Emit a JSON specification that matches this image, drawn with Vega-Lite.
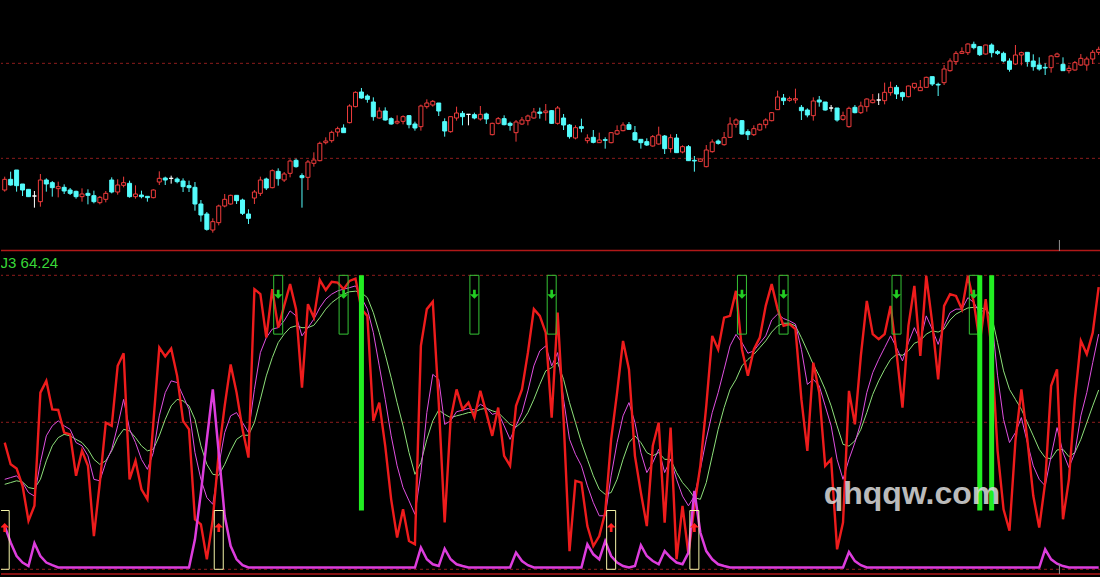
{
"$schema": "https://vega.github.io/schema/vega-lite/v6.json",
"background": "#000000",
"padding": 0,
"spacing": 0,
"config": {"view": {"stroke": null}, "axis": {"disable": true}, "concat": {"spacing": 0}},
"datasets": {
"bars": [
{"i":-1,"o":4.30,"h":4.70,"l":4.25,"c":4.62,"k":43.1,"d":30.6,"j":28.9,"x":14.7},
{"i":0,"o":4.62,"h":4.85,"l":4.43,"c":4.45,"k":35.7,"d":31.2,"j":29.5,"x":9.1},
{"i":1,"o":4.90,"h":4.90,"l":4.25,"c":4.43,"k":34.3,"d":31.8,"j":30.1,"x":4.5},
{"i":2,"o":4.48,"h":4.48,"l":4.12,"c":4.30,"k":28.4,"d":29.5,"j":29.7,"x":2.3},
{"i":3,"o":4.32,"h":4.32,"l":4.10,"c":4.10,"k":16.5,"d":26.1,"j":27.8,"x":1.1},
{"i":4,"o":4.12,"h":4.27,"l":3.77,"c":4.12,"k":21.6,"d":24.9,"j":27.4,"x":8.9},
{"i":5,"o":3.95,"h":4.78,"l":3.80,"c":4.60,"k":60.1,"d":36.3,"j":30.6,"x":4.5},
{"i":6,"o":4.60,"h":4.65,"l":4.25,"c":4.48,"k":64.1,"d":45.4,"j":36.9,"x":2.3},
{"i":7,"o":4.52,"h":4.57,"l":4.10,"c":4.37,"k":54.4,"d":48.8,"j":42.0,"x":1.4},
{"i":8,"o":4.34,"h":4.55,"l":4.08,"c":4.40,"k":54.2,"d":50.5,"j":44.8,"x":0.6},
{"i":9,"o":4.38,"h":4.47,"l":4.18,"c":4.27,"k":46.5,"d":48.8,"j":45.9,"x":0.6},
{"i":10,"o":4.30,"h":4.36,"l":4.15,"c":4.20,"k":45.9,"d":47.6,"j":45.4,"x":0.6},
{"i":11,"o":4.26,"h":4.28,"l":4.04,"c":4.10,"k":31.8,"d":43.1,"j":44.2,"x":0.6},
{"i":12,"o":4.10,"h":4.35,"l":3.95,"c":4.18,"k":40.3,"d":42.0,"j":43.1,"x":0.6},
{"i":13,"o":4.20,"h":4.32,"l":3.87,"c":4.14,"k":35.2,"d":38.6,"j":40.8,"x":0.6},
{"i":14,"o":4.13,"h":4.28,"l":3.90,"c":3.95,"k":11.3,"d":30.6,"j":37.4,"x":0.6},
{"i":15,"o":3.92,"h":4.12,"l":3.87,"c":4.08,"k":29.5,"d":30.1,"j":35.7,"x":0.6},
{"i":16,"o":4.02,"h":4.27,"l":3.93,"c":4.20,"k":49.9,"d":36.3,"j":36.9,"x":0.6},
{"i":17,"o":4.60,"h":4.68,"l":4.20,"c":4.24,"k":48.8,"d":40.8,"j":40.3,"x":0.6},
{"i":18,"o":4.24,"h":4.62,"l":4.16,"c":4.45,"k":69.2,"d":48.8,"j":44.8,"x":0.6},
{"i":19,"o":4.44,"h":4.70,"l":4.38,"c":4.52,"k":73.5,"d":57.8,"j":47.6,"x":0.6},
{"i":20,"o":4.50,"h":4.58,"l":4.07,"c":4.10,"k":30.6,"d":47.6,"j":47.1,"x":0.6},
{"i":21,"o":4.10,"h":4.44,"l":4.04,"c":4.18,"k":36.9,"d":43.1,"j":44.8,"x":0.6},
{"i":22,"o":4.15,"h":4.28,"l":4.05,"c":4.10,"k":27.2,"d":37.4,"j":42.0,"x":0.6},
{"i":23,"o":4.11,"h":4.11,"l":3.95,"c":4.07,"k":23.8,"d":34.0,"j":40.3,"x":0.6},
{"i":24,"o":4.07,"h":4.32,"l":4.05,"c":4.30,"k":49.9,"d":39.7,"j":40.8,"x":0.6},
{"i":25,"o":4.54,"h":4.86,"l":4.45,"c":4.65,"k":75.4,"d":52.2,"j":45.4,"x":0.6},
{"i":26,"o":4.66,"h":4.70,"l":4.45,"c":4.60,"k":72.4,"d":60.1,"j":51.0,"x":0.6},
{"i":27,"o":4.65,"h":4.73,"l":4.49,"c":4.65,"k":75.1,"d":64.1,"j":55.6,"x":0.6},
{"i":28,"o":4.63,"h":4.68,"l":4.50,"c":4.55,"k":65.8,"d":63.5,"j":57.8,"x":0.6},
{"i":29,"o":4.57,"h":4.65,"l":4.24,"c":4.40,"k":50.5,"d":59.0,"j":57.3,"x":0.6},
{"i":30,"o":4.43,"h":4.58,"l":4.24,"c":4.37,"k":47.6,"d":54.4,"j":55.6,"x":0.6},
{"i":31,"o":4.38,"h":4.54,"l":3.68,"c":3.88,"k":17.0,"d":39.7,"j":51.0,"x":10.2},
{"i":32,"o":3.88,"h":4.00,"l":3.35,"c":3.55,"k":15.3,"d":30.6,"j":42.0,"x":26.1},
{"i":33,"o":3.58,"h":3.64,"l":3.08,"c":3.12,"k":3.4,"d":24.4,"j":35.7,"x":44.2},
{"i":34,"o":3.10,"h":3.45,"l":3.02,"c":3.35,"k":17.0,"d":22.1,"j":32.3,"x":61.2},
{"i":35,"o":3.32,"h":3.86,"l":3.24,"c":3.82,"k":39.7,"d":35.2,"j":32.0,"x":39.7},
{"i":36,"o":3.82,"h":4.18,"l":3.78,"c":4.02,"k":55.6,"d":46.5,"j":35.7,"x":18.1},
{"i":37,"o":3.88,"h":4.16,"l":3.86,"c":4.14,"k":69.7,"d":52.2,"j":40.3,"x":7.9},
{"i":38,"o":4.14,"h":4.14,"l":3.88,"c":3.98,"k":60.1,"d":53.3,"j":44.2,"x":3.4},
{"i":39,"o":4.00,"h":4.04,"l":3.55,"c":3.60,"k":47.6,"d":49.9,"j":45.6,"x":1.4},
{"i":40,"o":3.58,"h":3.72,"l":3.28,"c":3.45,"k":38.0,"d":46.5,"j":45.6,"x":0.6},
{"i":41,"o":4.06,"h":4.30,"l":3.88,"c":4.24,"k":95.3,"d":61.2,"j":49.9,"x":0.6},
{"i":42,"o":4.20,"h":4.70,"l":4.12,"c":4.60,"k":93.6,"d":73.7,"j":57.8,"x":0.6},
{"i":43,"o":4.63,"h":4.67,"l":4.30,"c":4.36,"k":78.8,"d":78.8,"j":65.8,"x":0.6},
{"i":44,"o":4.37,"h":4.92,"l":4.35,"c":4.88,"k":95.3,"d":81.7,"j":72.0,"x":0.6},
{"i":45,"o":4.86,"h":4.95,"l":4.43,"c":4.64,"k":82.2,"d":82.2,"j":77.1,"x":0.6},
{"i":46,"o":4.60,"h":4.84,"l":4.54,"c":4.78,"k":89.6,"d":84.5,"j":80.0,"x":0.6},
{"i":47,"o":4.80,"h":5.22,"l":4.68,"c":5.17,"k":97.0,"d":87.9,"j":82.2,"x":0.6},
{"i":48,"o":5.19,"h":5.24,"l":4.97,"c":5.00,"k":88.5,"d":86.2,"j":82.8,"x":0.6},
{"i":49,"o":4.73,"h":4.80,"l":3.77,"c":4.67,"k":61.8,"d":79.4,"j":82.2,"x":0.6},
{"i":50,"o":4.68,"h":5.20,"l":4.30,"c":5.14,"k":90.2,"d":82.2,"j":82.2,"x":0.6},
{"i":51,"o":5.10,"h":5.43,"l":5.00,"c":5.20,"k":85.6,"d":85.1,"j":83.0,"x":0.6},
{"i":52,"o":5.18,"h":5.75,"l":5.16,"c":5.70,"k":98.4,"d":89.0,"j":85.6,"x":0.6},
{"i":53,"o":5.72,"h":5.88,"l":5.67,"c":5.77,"k":95.0,"d":91.9,"j":88.5,"x":0.6},
{"i":54,"o":5.78,"h":6.08,"l":5.72,"c":6.03,"k":97.8,"d":93.6,"j":90.7,"x":0.6},
{"i":55,"o":6.04,"h":6.20,"l":5.90,"c":6.14,"k":97.5,"d":94.7,"j":92.2,"x":0.6},
{"i":56,"o":6.16,"h":6.27,"l":6.02,"c":6.02,"k":95.3,"d":95.3,"j":93.6,"x":0.6},
{"i":57,"o":6.32,"h":6.87,"l":6.30,"c":6.82,"k":98.1,"d":95.8,"j":94.4,"x":0.6},
{"i":58,"o":6.80,"h":7.26,"l":6.78,"c":7.23,"k":98.9,"d":96.4,"j":94.6,"x":0.6},
{"i":59,"o":7.24,"h":7.36,"l":7.04,"c":7.06,"k":88.5,"d":92.4,"j":94.1,"x":0.6},
{"i":60,"o":7.12,"h":7.17,"l":6.92,"c":7.02,"k":86.2,"d":88.5,"j":92.4,"x":0.6},
{"i":61,"o":6.94,"h":7.08,"l":6.38,"c":6.50,"k":50.5,"d":80.5,"j":87.3,"x":0.6},
{"i":62,"o":6.46,"h":6.78,"l":6.44,"c":6.67,"k":56.7,"d":69.2,"j":80.5,"x":0.6},
{"i":63,"o":6.67,"h":6.78,"l":6.38,"c":6.40,"k":42.0,"d":57.8,"j":73.1,"x":0.6},
{"i":64,"o":6.44,"h":6.48,"l":6.26,"c":6.28,"k":23.8,"d":45.4,"j":65.2,"x":0.6},
{"i":65,"o":6.31,"h":6.54,"l":6.27,"c":6.36,"k":10.8,"d":35.2,"j":56.7,"x":0.6},
{"i":66,"o":6.36,"h":6.54,"l":6.27,"c":6.50,"k":20.4,"d":27.8,"j":48.8,"x":0.6},
{"i":67,"o":6.53,"h":6.55,"l":6.15,"c":6.26,"k":9.6,"d":23.3,"j":39.7,"x":0.6},
{"i":68,"o":6.28,"h":6.35,"l":6.08,"c":6.16,"k":8.5,"d":18.7,"j":32.3,"x":0.6},
{"i":69,"o":6.20,"h":6.86,"l":6.08,"c":6.82,"k":76.0,"d":32.9,"j":36.3,"x":7.4},
{"i":70,"o":6.80,"h":7.02,"l":6.74,"c":6.91,"k":88.5,"d":53.3,"j":44.2,"x":3.4},
{"i":71,"o":6.85,"h":7.00,"l":6.80,"c":6.96,"k":91.0,"d":66.3,"j":50.5,"x":1.7},
{"i":72,"o":6.91,"h":6.91,"l":6.52,"c":6.67,"k":56.7,"d":64.6,"j":54.2,"x":1.1},
{"i":73,"o":6.35,"h":6.45,"l":5.90,"c":6.07,"k":15.9,"d":49.3,"j":52.7,"x":7.0},
{"i":74,"o":6.05,"h":6.50,"l":6.02,"c":6.50,"k":51.0,"d":50.5,"j":51.6,"x":3.4},
{"i":75,"o":6.46,"h":6.80,"l":6.38,"c":6.61,"k":61.2,"d":53.6,"j":52.2,"x":1.7},
{"i":76,"o":6.60,"h":6.67,"l":6.24,"c":6.50,"k":54.4,"d":54.1,"j":52.7,"x":1.1},
{"i":77,"o":6.57,"h":6.58,"l":6.24,"c":6.57,"k":56.7,"d":54.7,"j":53.3,"x":0.6},
{"i":78,"o":6.56,"h":6.62,"l":6.42,"c":6.46,"k":51.6,"d":54.2,"j":53.5,"x":0.6},
{"i":79,"o":6.43,"h":6.82,"l":6.38,"c":6.57,"k":60.7,"d":56.1,"j":54.4,"x":0.6},
{"i":80,"o":6.58,"h":6.62,"l":6.28,"c":6.43,"k":53.3,"d":55.0,"j":54.8,"x":0.6},
{"i":81,"o":5.96,"h":6.32,"l":5.94,"c":6.30,"k":45.4,"d":52.7,"j":53.9,"x":0.6},
{"i":82,"o":6.30,"h":6.49,"l":6.27,"c":6.44,"k":55.0,"d":53.3,"j":53.3,"x":0.6},
{"i":83,"o":6.44,"h":6.54,"l":6.24,"c":6.26,"k":38.6,"d":48.8,"j":51.3,"x":0.6},
{"i":84,"o":6.30,"h":6.35,"l":6.08,"c":6.24,"k":35.2,"d":44.2,"j":49.3,"x":0.6},
{"i":85,"o":6.02,"h":6.40,"l":5.75,"c":6.34,"k":55.6,"d":48.8,"j":48.4,"x":5.7},
{"i":86,"o":6.28,"h":6.49,"l":6.25,"c":6.40,"k":61.2,"d":53.3,"j":50.1,"x":2.8},
{"i":87,"o":6.38,"h":6.56,"l":6.24,"c":6.52,"k":73.7,"d":60.7,"j":53.3,"x":1.4},
{"i":88,"o":6.46,"h":6.76,"l":6.44,"c":6.64,"k":88.5,"d":69.2,"j":57.8,"x":0.6},
{"i":89,"o":6.64,"h":6.77,"l":6.44,"c":6.60,"k":86.2,"d":74.3,"j":62.9,"x":0.6},
{"i":90,"o":6.62,"h":6.88,"l":6.38,"c":6.67,"k":80.5,"d":76.0,"j":67.5,"x":0.6},
{"i":91,"o":6.68,"h":6.70,"l":6.28,"c":6.30,"k":51.6,"d":69.2,"j":68.6,"x":0.6},
{"i":92,"o":6.30,"h":6.82,"l":6.26,"c":6.76,"k":87.3,"d":73.7,"j":70.3,"x":0.6},
{"i":93,"o":6.46,"h":6.58,"l":6.10,"c":6.25,"k":51.0,"d":57.8,"j":64.6,"x":0.6},
{"i":94,"o":6.25,"h":6.28,"l":5.84,"c":5.90,"k":6.2,"d":44.2,"j":56.7,"x":0.6},
{"i":95,"o":5.86,"h":6.24,"l":5.82,"c":6.17,"k":30.1,"d":39.1,"j":49.9,"x":0.6},
{"i":96,"o":6.20,"h":6.44,"l":6.03,"c":6.15,"k":29.5,"d":35.2,"j":43.1,"x":0.6},
{"i":97,"o":5.78,"h":5.97,"l":5.70,"c":5.86,"k":14.7,"d":28.4,"j":37.4,"x":8.5},
{"i":98,"o":5.88,"h":6.10,"l":5.70,"c":5.73,"k":7.9,"d":22.7,"j":31.8,"x":5.1},
{"i":99,"o":5.72,"h":6.02,"l":5.72,"c":5.80,"k":11.3,"d":18.2,"j":27.2,"x":3.4},
{"i":100,"o":5.81,"h":5.88,"l":5.54,"c":5.79,"k":19.3,"d":18.2,"j":25.5,"x":9.6},
{"i":101,"o":5.72,"h":6.04,"l":5.70,"c":6.02,"k":44.2,"d":31.8,"j":26.1,"x":4.5},
{"i":102,"o":5.98,"h":6.24,"l":5.95,"c":6.08,"k":60.1,"d":43.1,"j":30.6,"x":2.3},
{"i":103,"o":6.08,"h":6.33,"l":6.06,"c":6.25,"k":77.7,"d":52.2,"j":37.4,"x":1.1},
{"i":104,"o":6.26,"h":6.34,"l":6.10,"c":6.12,"k":68.0,"d":56.7,"j":43.1,"x":0.6},
{"i":105,"o":6.02,"h":6.22,"l":5.78,"c":5.80,"k":38.6,"d":49.9,"j":45.4,"x":1.1},
{"i":106,"o":5.82,"h":5.82,"l":5.54,"c":5.72,"k":26.1,"d":39.7,"j":43.1,"x":8.2},
{"i":107,"o":5.75,"h":5.85,"l":5.62,"c":5.65,"k":14.7,"d":32.9,"j":39.7,"x":4.5},
{"i":108,"o":5.62,"h":5.95,"l":5.60,"c":5.90,"k":42.0,"d":36.3,"j":38.6,"x":2.8},
{"i":109,"o":5.68,"h":6.20,"l":5.66,"c":5.95,"k":49.9,"d":40.8,"j":39.7,"x":1.7},
{"i":110,"o":5.92,"h":5.95,"l":5.38,"c":5.54,"k":15.9,"d":32.9,"j":37.4,"x":6.2},
{"i":111,"o":5.54,"h":5.97,"l":5.42,"c":5.87,"k":48.2,"d":37.4,"j":37.4,"x":4.0},
{"i":112,"o":5.86,"h":5.98,"l":5.42,"c":5.42,"k":3.4,"d":30.6,"j":32.9,"x":2.3},
{"i":113,"o":5.44,"h":5.64,"l":5.40,"c":5.60,"k":21.6,"d":24.9,"j":29.5,"x":1.7},
{"i":114,"o":5.60,"h":5.65,"l":5.17,"c":5.18,"k":5.1,"d":21.6,"j":27.2,"x":5.7},
{"i":115,"o":5.19,"h":5.32,"l":4.85,"c":5.17,"k":21.6,"d":24.9,"j":24.4,"x":26.7},
{"i":116,"o":5.16,"h":5.25,"l":5.14,"c":5.23,"k":35.2,"d":34.0,"j":23.8,"x":12.5},
{"i":117,"o":5.00,"h":5.65,"l":4.98,"c":5.50,"k":55.6,"d":44.2,"j":29.5,"x":6.2},
{"i":118,"o":5.45,"h":5.82,"l":5.42,"c":5.74,"k":79.4,"d":53.3,"j":38.6,"x":3.4},
{"i":119,"o":5.77,"h":5.82,"l":5.66,"c":5.70,"k":74.8,"d":60.1,"j":47.6,"x":1.7},
{"i":120,"o":5.66,"h":6.04,"l":5.63,"c":5.87,"k":85.6,"d":68.0,"j":55.0,"x":1.1},
{"i":121,"o":5.88,"h":6.48,"l":5.86,"c":6.28,"k":86.2,"d":76.0,"j":61.2,"x":0.6},
{"i":122,"o":6.27,"h":6.45,"l":6.17,"c":6.40,"k":94.7,"d":79.9,"j":64.6,"x":0.6},
{"i":123,"o":6.38,"h":6.40,"l":5.96,"c":5.98,"k":74.8,"d":77.1,"j":69.2,"x":0.6},
{"i":124,"o":6.05,"h":6.12,"l":5.80,"c":5.96,"k":65.8,"d":73.5,"j":71.4,"x":0.6},
{"i":125,"o":5.96,"h":6.24,"l":5.92,"c":6.14,"k":74.8,"d":74.3,"j":73.1,"x":0.6},
{"i":126,"o":6.10,"h":6.30,"l":6.08,"c":6.27,"k":78.8,"d":76.9,"j":75.4,"x":0.6},
{"i":127,"o":6.26,"h":6.45,"l":6.15,"c":6.40,"k":89.6,"d":79.4,"j":77.7,"x":0.6},
{"i":128,"o":6.38,"h":6.64,"l":6.36,"c":6.62,"k":97.0,"d":84.8,"j":80.7,"x":0.6},
{"i":129,"o":6.71,"h":7.28,"l":6.70,"c":7.09,"k":88.5,"d":86.8,"j":82.8,"x":0.6},
{"i":130,"o":7.06,"h":7.18,"l":6.85,"c":6.98,"k":82.8,"d":85.3,"j":83.7,"x":0.6},
{"i":131,"o":6.99,"h":7.10,"l":6.95,"c":7.04,"k":83.4,"d":84.5,"j":83.7,"x":0.6},
{"i":132,"o":7.00,"h":7.34,"l":6.90,"c":7.04,"k":81.7,"d":83.4,"j":82.8,"x":0.6},
{"i":133,"o":6.78,"h":6.85,"l":6.40,"c":6.68,"k":57.8,"d":74.8,"j":78.8,"x":0.6},
{"i":134,"o":6.70,"h":6.75,"l":6.48,"c":6.55,"k":40.3,"d":62.9,"j":74.3,"x":0.6},
{"i":135,"o":6.53,"h":7.08,"l":6.38,"c":6.97,"k":70.3,"d":64.6,"j":69.7,"x":0.6},
{"i":136,"o":7.00,"h":7.12,"l":6.80,"c":6.94,"k":60.1,"d":62.4,"j":65.8,"x":0.6},
{"i":137,"o":6.94,"h":6.94,"l":6.68,"c":6.70,"k":35.2,"d":55.6,"j":61.2,"x":0.6},
{"i":138,"o":6.76,"h":6.85,"l":6.65,"c":6.76,"k":37.4,"d":48.8,"j":55.6,"x":0.6},
{"i":139,"o":6.76,"h":6.76,"l":6.35,"c":6.40,"k":6.8,"d":37.4,"j":48.8,"x":0.6},
{"i":140,"o":6.42,"h":6.65,"l":6.38,"c":6.53,"k":15.9,"d":30.6,"j":42.5,"x":0.6},
{"i":141,"o":6.20,"h":6.80,"l":6.17,"c":6.75,"k":60.7,"d":37.4,"j":41.9,"x":5.9},
{"i":142,"o":6.78,"h":6.85,"l":6.60,"c":6.62,"k":49.3,"d":43.1,"j":43.7,"x":2.8},
{"i":143,"o":6.62,"h":6.95,"l":6.58,"c":6.82,"k":72.6,"d":49.9,"j":47.6,"x":1.4},
{"i":144,"o":6.80,"h":7.05,"l":6.65,"c":7.03,"k":91.3,"d":60.1,"j":53.3,"x":0.6},
{"i":145,"o":6.92,"h":7.18,"l":6.90,"c":7.00,"k":80.0,"d":66.9,"j":59.5,"x":0.6},
{"i":146,"o":7.00,"h":7.20,"l":6.85,"c":7.00,"k":78.3,"d":71.4,"j":64.1,"x":0.6},
{"i":147,"o":6.98,"h":7.52,"l":6.87,"c":7.23,"k":80.0,"d":75.4,"j":68.0,"x":0.6},
{"i":148,"o":7.22,"h":7.55,"l":7.13,"c":7.38,"k":89.6,"d":79.4,"j":71.4,"x":0.6},
{"i":149,"o":7.38,"h":7.45,"l":7.03,"c":7.18,"k":73.7,"d":75.4,"j":73.1,"x":0.6},
{"i":150,"o":7.22,"h":7.25,"l":6.98,"c":7.10,"k":55.0,"d":70.9,"j":72.8,"x":0.6},
{"i":151,"o":7.10,"h":7.43,"l":7.08,"c":7.42,"k":82.8,"d":77.1,"j":74.3,"x":0.6},
{"i":152,"o":7.38,"h":7.50,"l":7.32,"c":7.50,"k":96.4,"d":82.2,"j":76.9,"x":0.6},
{"i":153,"o":7.28,"h":7.60,"l":7.28,"c":7.38,"k":72.6,"d":77.7,"j":77.7,"x":0.6},
{"i":154,"o":7.38,"h":7.70,"l":7.36,"c":7.68,"k":99.8,"d":86.2,"j":80.0,"x":0.6},
{"i":155,"o":7.70,"h":7.70,"l":7.42,"c":7.48,"k":83.9,"d":81.7,"j":81.1,"x":0.6},
{"i":156,"o":7.47,"h":7.52,"l":7.12,"c":7.45,"k":64.6,"d":76.5,"j":80.7,"x":0.6},
{"i":157,"o":7.52,"h":8.05,"l":7.45,"c":7.93,"k":89.6,"d":82.8,"j":81.7,"x":0.6},
{"i":158,"o":7.88,"h":8.25,"l":7.85,"c":8.17,"k":93.6,"d":87.3,"j":84.8,"x":0.6},
{"i":159,"o":8.15,"h":8.47,"l":8.05,"c":8.40,"k":93.0,"d":88.5,"j":86.8,"x":0.6},
{"i":160,"o":8.40,"h":8.58,"l":8.38,"c":8.45,"k":88.5,"d":88.5,"j":87.9,"x":0.6},
{"i":161,"o":8.42,"h":8.70,"l":8.35,"c":8.68,"k":99.8,"d":92.4,"j":88.9,"x":0.6},
{"i":162,"o":8.67,"h":8.75,"l":8.52,"c":8.57,"k":90.7,"d":90.7,"j":89.1,"x":0.6},
{"i":163,"o":8.60,"h":8.62,"l":8.32,"c":8.36,"k":77.1,"d":87.3,"j":89.0,"x":0.6},
{"i":164,"o":8.38,"h":8.66,"l":8.36,"c":8.65,"k":91.9,"d":88.5,"j":88.5,"x":0.6},
{"i":165,"o":8.65,"h":8.70,"l":8.28,"c":8.42,"k":74.8,"d":85.6,"j":86.2,"x":0.6},
{"i":166,"o":8.45,"h":8.50,"l":8.35,"c":8.40,"k":40.3,"d":65.8,"j":77.1,"x":0.6},
{"i":167,"o":8.40,"h":8.45,"l":8.13,"c":8.17,"k":20.4,"d":51.0,"j":67.5,"x":0.6},
{"i":168,"o":8.17,"h":8.25,"l":7.85,"c":7.92,"k":13.1,"d":43.1,"j":61.2,"x":0.6},
{"i":169,"o":8.08,"h":8.65,"l":8.05,"c":8.35,"k":43.7,"d":46.5,"j":57.8,"x":0.6},
{"i":170,"o":8.35,"h":8.45,"l":8.04,"c":8.42,"k":61.2,"d":51.6,"j":54.4,"x":0.6},
{"i":171,"o":8.43,"h":8.43,"l":8.00,"c":8.15,"k":44.2,"d":43.1,"j":49.9,"x":0.6},
{"i":172,"o":8.17,"h":8.37,"l":7.88,"c":8.00,"k":25.0,"d":35.2,"j":45.4,"x":0.6},
{"i":173,"o":8.05,"h":8.28,"l":7.88,"c":7.93,"k":14.2,"d":30.6,"j":40.8,"x":0.6},
{"i":174,"o":7.98,"h":8.10,"l":7.75,"c":7.96,"k":29.5,"d":28.4,"j":38.0,"x":6.8},
{"i":175,"o":7.97,"h":8.35,"l":7.82,"c":8.32,"k":62.4,"d":38.6,"j":37.6,"x":3.4},
{"i":176,"o":8.30,"h":8.42,"l":8.28,"c":8.38,"k":68.0,"d":48.2,"j":40.6,"x":1.9},
{"i":177,"o":8.07,"h":8.28,"l":7.88,"c":7.88,"k":17.0,"d":39.7,"j":40.8,"x":1.1},
{"i":178,"o":7.88,"h":8.04,"l":7.80,"c":7.95,"k":30.6,"d":34.6,"j":38.3,"x":0.6},
{"i":179,"o":7.90,"h":8.17,"l":7.88,"c":8.12,"k":57.8,"d":39.7,"j":39.7,"x":0.6},
{"i":180,"o":8.05,"h":8.38,"l":8.02,"c":8.25,"k":77.7,"d":52.2,"j":44.2,"x":0.6},
{"i":181,"o":8.05,"h":8.30,"l":7.88,"c":8.23,"k":73.2,"d":60.1,"j":49.9,"x":0.6},
{"i":182,"o":8.23,"h":8.50,"l":8.08,"c":8.43,"k":80.5,"d":70.3,"j":55.6,"x":0.6},
{"i":183,"o":8.43,"h":8.60,"l":8.35,"c":8.52,"k":96.0,"d":80.0,"j":61.0,"x":0.6}
],
"sig": [
{"i":59,"t":"bar"},{"i":163,"t":"bar"},{"i":165,"t":"bar"},
{"i":45,"t":"sell"},{"i":56,"t":"sell"},{"i":78,"t":"sell"},{"i":91,"t":"sell"},{"i":123,"t":"sell"},{"i":130,"t":"sell"},{"i":149,"t":"sell"},{"i":162,"t":"sell"},
{"i":-1,"t":"buy"},{"i":35,"t":"buy"},{"i":101,"t":"buy"},{"i":115,"t":"buy"}
]
},
"vconcat": [
{
"width": 1100, "height": 251,
"data": {"name": "bars"},
"layer": [
{"data": {"values": [{"p": 8.10}, {"p": 5.25}]},
 "mark": {"type": "rule", "strokeDash": [3, 3], "color": "#8c1c1c", "strokeWidth": 1},
 "encoding": {"y": {"field": "p", "type": "quantitative", "scale": {"domain": [2.47, 10], "zero": false, "nice": false}}}},
{"mark": {"type": "rule", "strokeWidth": 1, "clip": true},
 "encoding": {
  "x": {"field": "i", "type": "quantitative", "scale": {"domain": [-0.783, 182.55], "zero": false, "nice": false}},
  "y": {"field": "l", "type": "quantitative", "scale": {"domain": [2.47, 10], "zero": false, "nice": false}},
  "y2": {"field": "h"},
  "color": {"condition": [{"test": "datum.c > datum.o", "value": "#f03c3c"}, {"test": "datum.c == datum.o", "value": "#ffffff"}], "value": "#54fcfc"}}},
{"mark": {"type": "bar", "size": 4, "strokeWidth": 1, "clip": true},
 "encoding": {
  "x": {"field": "i", "type": "quantitative"},
  "y": {"field": "o", "type": "quantitative"},
  "y2": {"field": "c"},
  "fill": {"condition": [{"test": "datum.c > datum.o", "value": "#000000"}, {"test": "datum.c == datum.o", "value": "#ffffff"}], "value": "#54fcfc"},
  "stroke": {"condition": [{"test": "datum.c > datum.o", "value": "#f03c3c"}, {"test": "datum.c == datum.o", "value": "#ffffff"}], "value": "#54fcfc"}}},
{"data": {"values": [{}]},
 "mark": {"type": "rule", "color": "#b01818", "strokeWidth": 1.5},
 "encoding": {"y": {"datum": 2.485}}},
{"data": {"values": [{}]},
 "mark": {"type": "rule", "color": "#909090", "strokeWidth": 1},
 "encoding": {"x": {"datum": 176.4}, "y": {"datum": 2.80}, "y2": {"datum": 2.47}}}
]
},
{
"width": 1100, "height": 326,
"data": {"name": "bars"},
"layer": [
{"data": {"values": [{"v": 100}, {"v": 50}, {"v": 0}]},
 "mark": {"type": "rule", "strokeDash": [3, 3], "color": "#8c1c1c", "strokeWidth": 1},
 "encoding": {"y": {"field": "v", "type": "quantitative", "scale": {"domain": [-2.96, 107.93], "zero": false, "nice": false}}}},
{"data": {"values": [{}]},
 "mark": {"type": "rule", "color": "#b01818", "strokeWidth": 1.5},
 "encoding": {"y": {"datum": -1.6}}},
{"mark": {"type": "line", "color": "#8ee07a", "strokeWidth": 1, "clip": true},
 "encoding": {
  "x": {"field": "i", "type": "quantitative", "scale": {"domain": [-0.783, 182.55], "zero": false, "nice": false}},
  "y": {"field": "j", "type": "quantitative"}}},
{"mark": {"type": "line", "color": "#e050e0", "strokeWidth": 1, "clip": true},
 "encoding": {"x": {"field": "i", "type": "quantitative"}, "y": {"field": "d", "type": "quantitative"}}},
{"mark": {"type": "line", "color": "#ee1c1c", "strokeWidth": 2.4, "clip": true},
 "encoding": {"x": {"field": "i", "type": "quantitative"}, "y": {"field": "k", "type": "quantitative"}}},
{"mark": {"type": "line", "color": "#dd3ddd", "strokeWidth": 2.5, "clip": true},
 "encoding": {"x": {"field": "i", "type": "quantitative"}, "y": {"field": "x", "type": "quantitative"}}},
{"data": {"name": "sig"}, "transform": [{"filter": "datum.t == 'sell'"}],
 "mark": {"type": "bar", "size": 9, "fill": "#000000", "fillOpacity": 0, "stroke": "#35c435", "strokeWidth": 1, "clip": true},
 "encoding": {"x": {"field": "i", "type": "quantitative"}, "y": {"datum": 80}, "y2": {"datum": 100}}},
{"data": {"name": "sig"}, "transform": [{"filter": "datum.t == 'buy'"}],
 "mark": {"type": "bar", "size": 9, "fill": "#000000", "fillOpacity": 0, "stroke": "#f4f4a8", "strokeWidth": 1, "clip": true},
 "encoding": {"x": {"field": "i", "type": "quantitative"}, "y": {"datum": 0}, "y2": {"datum": 20}}},
{"data": {"name": "sig"}, "transform": [{"filter": "datum.t == 'bar'"}],
 "mark": {"type": "bar", "size": 5, "color": "#22ee22", "clip": true},
 "encoding": {"x": {"field": "i", "type": "quantitative"}, "y": {"datum": 20}, "y2": {"datum": 100}}},
{"data": {"name": "sig"}, "transform": [{"filter": "datum.t == 'sell'"}],
 "mark": {"type": "point", "shape": "M-0.3,-1L0.3,-1L0.3,0L1,0L0,1L-1,0L-0.3,0Z", "filled": true, "size": 81, "color": "#22cc22", "opacity": 1, "clip": true},
 "encoding": {"x": {"field": "i", "type": "quantitative"}, "y": {"datum": 93.6}}},
{"data": {"name": "sig"}, "transform": [{"filter": "datum.t == 'buy'"}],
 "mark": {"type": "point", "shape": "M-0.3,1L0.3,1L0.3,0L1,0L0,-1L-1,0L-0.3,0Z", "filled": true, "size": 81, "color": "#ff2020", "opacity": 1, "clip": true},
 "encoding": {"x": {"field": "i", "type": "quantitative"}, "y": {"datum": 14.2}}},
{"data": {"values": [{}]},
 "mark": {"type": "text", "align": "left", "baseline": "alphabetic", "font": "Liberation Sans", "fontSize": 15, "color": "#38d838", "clip": true},
 "encoding": {"x": {"datum": -1.7}, "y": {"datum": 102.6}, "text": {"value": "J3 64.24"}}},
{"data": {"values": [{}]},
 "mark": {"type": "text", "align": "center", "baseline": "alphabetic", "font": "Liberation Sans", "fontWeight": "bold", "fontSize": 32, "color": "#dcdcdc", "opacity": 0.85},
 "encoding": {"x": {"datum": 151.6}, "y": {"datum": 22.2}, "text": {"value": "qhqqw.com"}}},
{"data": {"values": [{}]},
 "mark": {"type": "rule", "color": "#909090", "strokeWidth": 1},
 "encoding": {"x": {"datum": 176.4}, "y": {"datum": 1.8}, "y2": {"datum": -1.6}}}
]
}
]
}
